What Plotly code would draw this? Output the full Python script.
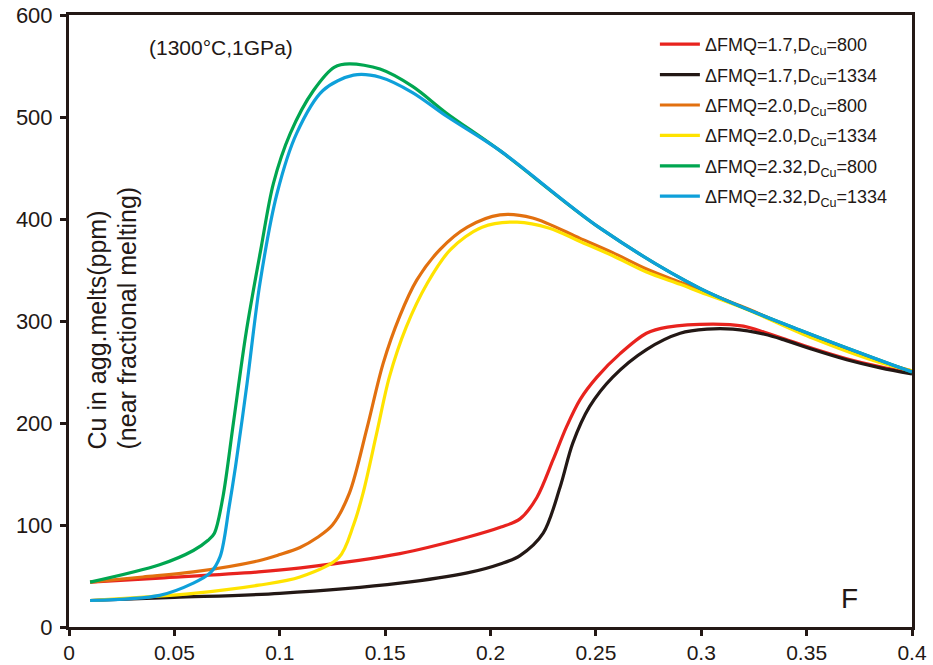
import plotly.graph_objects as go

# ---- data ----
F_red = [0.01, 0.043, 0.09, 0.11, 0.157, 0.189, 0.205, 0.214, 0.222, 0.2297, 0.236, 0.2425, 0.2505, 0.2615, 0.274, 0.284, 0.3056, 0.32, 0.33, 0.34, 0.353, 0.369, 0.385, 0.4]
Cu_red = [44, 48, 54, 58, 72, 88, 98, 106, 127, 164, 196, 223, 245, 268, 288, 294, 297, 295, 289, 282, 273, 263, 255, 249]

F_black = [0.01, 0.05, 0.1, 0.157, 0.189, 0.205, 0.214, 0.225, 0.233, 0.239, 0.247, 0.258, 0.274, 0.29, 0.3027, 0.315, 0.33, 0.34, 0.353, 0.369, 0.385, 0.4]
Cu_black = [26, 29, 33, 43, 53, 62, 70, 92, 137, 180, 216, 245, 272, 288, 292, 292, 287, 281, 272, 262, 254, 248]

F_orange = [0.01, 0.035, 0.059, 0.09, 0.1, 0.1096, 0.118, 0.125, 0.133, 0.1414, 0.149, 0.157, 0.165, 0.176, 0.189, 0.2045, 0.22, 0.2425, 0.258, 0.274, 0.29, 0.3, 0.322, 0.353, 0.385, 0.4]
Cu_orange = [44, 49, 54, 65, 71, 78, 88, 100, 131, 195, 258, 305, 340, 370, 392, 404, 401, 381, 367, 351, 338, 330, 312, 284, 260, 251]

F_yellow = [0.01, 0.059, 0.09, 0.1096, 0.128, 0.135, 0.1395, 0.146, 0.152, 0.16, 0.17, 0.181, 0.196, 0.2126, 0.228, 0.2425, 0.258, 0.274, 0.29, 0.3, 0.322, 0.353, 0.385, 0.4]
Cu_yellow = [26, 33, 41, 49, 68, 100, 131, 190, 245, 294, 337, 370, 392, 397, 391, 378, 364, 348, 336, 328, 311, 283, 259, 251]

F_green = [0.01, 0.043, 0.059, 0.066, 0.069, 0.073, 0.078, 0.084, 0.091, 0.097, 0.105, 0.116, 0.126, 0.133, 0.1476, 0.163, 0.179, 0.2045, 0.252, 0.2994, 0.347, 0.4]
Cu_green = [44, 61, 75, 85, 92, 127, 200, 288, 370, 435, 484, 526, 549, 552, 547, 530, 504, 467, 391, 332, 291, 250]

F_blue = [0.01, 0.043, 0.059, 0.067, 0.0717, 0.076, 0.079, 0.0845, 0.0906, 0.0987, 0.108, 0.1205, 0.135, 0.1476, 0.163, 0.179, 0.2045, 0.252, 0.2994, 0.347, 0.4]
Cu_blue = [26, 31, 43, 53, 69, 118, 157, 239, 337, 425, 484, 526, 541, 539, 524, 501, 467, 391, 332, 291, 250]

series_names = [
    "ΔFMQ=1.7,D<sub>Cu</sub>=800",
    "ΔFMQ=1.7,D<sub>Cu</sub>=1334",
    "ΔFMQ=2.0,D<sub>Cu</sub>=800",
    "ΔFMQ=2.0,D<sub>Cu</sub>=1334",
    "ΔFMQ=2.32,D<sub>Cu</sub>=800",
    "ΔFMQ=2.32,D<sub>Cu</sub>=1334",
]
series_colors = ["#E8231E", "#231815", "#E2700F", "#FFE300", "#00A650", "#0EA0DA"]

x_ticks = [0, 0.05, 0.1, 0.15, 0.2, 0.25, 0.3, 0.35, 0.4]
x_tick_labels = ["0", "0.05", "0.1", "0.15", "0.2", "0.25", "0.3", "0.35", "0.4"]
y_ticks = [0, 100, 200, 300, 400, 500, 600]

FONT = "Liberation Sans, Arial, sans-serif"
AXC = "#231815"

fig = go.Figure()
xs = [F_red, F_black, F_orange, F_yellow, F_green, F_blue]
ys = [Cu_red, Cu_black, Cu_orange, Cu_yellow, Cu_green, Cu_blue]
for i, (x, y) in enumerate(zip(xs, ys)):
    fig.add_trace(go.Scatter(
        x=x, y=y, mode="lines", name=series_names[i],
        line=dict(color=series_colors[i], width=3.2, shape="spline", smoothing=0.9),
        legendgroup=f"g{i}",
    ))

fig.update_layout(
    template="none",
    width=933, height=665,
    margin=dict(l=69, r=21, t=15, b=38, autoexpand=False),
    plot_bgcolor="white", paper_bgcolor="white",
    font=dict(family=FONT, color="#231815", size=22),
    showlegend=True,
    legend=dict(
        x=0.695, y=0.982, xanchor="left", yanchor="top",
        font=dict(family=FONT, size=18, color="#231815"),
        bgcolor="rgba(0,0,0,0)", borderwidth=0,
        traceorder="grouped", tracegroupgap=4, itemwidth=40,
    ),
    xaxis=dict(
        range=[0, 0.4], tickvals=x_ticks, ticktext=x_tick_labels,
        showgrid=False, zeroline=False, automargin=False,
        showline=True, linecolor=AXC, linewidth=3, mirror=True,
        ticks="outside", ticklen=6, tickwidth=3, tickcolor=AXC,
        ticklabelstandoff=-1,
        tickfont=dict(family=FONT, size=21, color="#231815"),
    ),
    yaxis=dict(
        range=[0, 600], tickvals=y_ticks,
        showgrid=False, zeroline=False, automargin=False,
        showline=True, linecolor=AXC, linewidth=3, mirror=True,
        ticks="outside", ticklen=6, tickwidth=3, tickcolor=AXC,
        ticklabelstandoff=3,
        tickfont=dict(family=FONT, size=22, color="#231815"),
    ),
    annotations=[
        dict(x=0.092, y=0.947, xref="paper", yref="paper", text="(1300°C,1GPa)",
             showarrow=False, xanchor="left", yanchor="middle",
             font=dict(family=FONT, size=21, color="#231815")),
        dict(x=0.926, y=0.046, xref="paper", yref="paper", text="F",
             showarrow=False, xanchor="center", yanchor="middle",
             font=dict(family=FONT, size=28, color="#231815")),
        dict(x=(97 - 69) / 843, y=0.286, xref="paper", yref="paper",
             text="Cu in agg.melts(ppm)",
             showarrow=False, textangle=-90,
             xanchor="center", yanchor="bottom",
             font=dict(family=FONT, size=25, color="#231815")),
        dict(x=(127 - 69) / 843, y=0.286, xref="paper", yref="paper",
             text="(near fractional melting)",
             showarrow=False, textangle=-90,
             xanchor="center", yanchor="bottom",
             font=dict(family=FONT, size=25, color="#231815")),
    ],
)

fig.write_html("out.html", config={"displayModeBar": False},
               post_script="document.body.style.margin='0';")
